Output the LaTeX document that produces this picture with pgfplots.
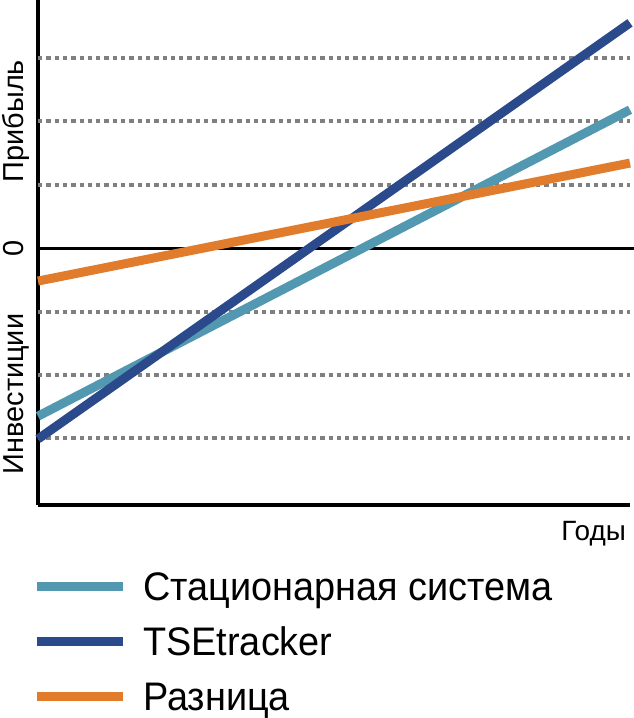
\documentclass[border=0pt]{standalone}
\usepackage{pgfplots}
\pgfplotsset{compat=1.18}
\usepackage{fontspec}
\setmainfont{Liberation Sans}
\newfontfamily\legfont[FakeStretch=0.95]{Liberation Sans}
\definecolor{cstat}{HTML}{5198B0}
\definecolor{ctse}{HTML}{2B4A8C}
\definecolor{cdiff}{HTML}{E07C2C}
\definecolor{cgrid}{HTML}{808080}
\begin{document}
\begin{tikzpicture}
\useasboundingbox (0,0) rectangle (634bp,-718bp);
\begin{axis}[
  at={(38bp,-505bp)}, anchor=south west,
  scale only axis, width=592bp, height=505bp,
  xmin=0, xmax=1, ymin=-4.05, ymax=3.91,
  axis x line=bottom, axis y line=left,
  axis line style={-, line width=4bp, black},
  xtick=\empty, ytick=\empty,
  clip=false,
  legend style={at={(rel axis cs:0,0)}, anchor=north west, xshift=-6bp, yshift=-67bp,
    draw=none, fill=none, inner sep=0pt, row sep=27bp,
    font=\legfont\fontsize{40}{44}\selectfont,
    nodes={inner sep=0pt, text depth=0pt}},
  legend cell align=left,
  legend image code/.code={\draw[#1] (0bp,0bp) -- (86bp,0bp);},
  legend style={/tikz/every odd column/.append style={column sep=16bp}},
]
% grid
\foreach \g in {-3,-2,-1,1,2,3}{
  \edef\tmp{\noexpand\draw[cgrid, line width=4bp, dash pattern=on 4.3bp off 4bp] (axis cs:0,\g) -- (axis cs:1,\g);}
  \tmp
}
\draw[black, line width=3bp] (axis cs:0,0) -- (axis cs:1.01,0);
\addplot[cstat, line width=9bp] coordinates {(0,-2.65) (1,2.18)};
\addlegendentry{Стационарная система}
\addplot[ctse, line width=9bp] coordinates {(0,-3.01) (1,3.55)};
\addlegendentry{TSEtracker}
\addplot[cdiff, line width=9bp] coordinates {(0,-0.52) (1,1.34)};
\addlegendentry{Разница}
\node[rotate=90, anchor=base, font=\fontsize{29}{32}\selectfont] at ([xshift=-15bp]axis cs:0,2.0) {Прибыль};
\node[rotate=90, anchor=base, font=\fontsize{29}{32}\selectfont] at ([xshift=-15bp]axis cs:0,0) {0};
\node[rotate=90, anchor=base, font=\fontsize{29}{32}\selectfont] at ([xshift=-15bp]axis cs:0,-2.3) {Инвестиции};
\node[anchor=base east, font=\fontsize{28}{32}\selectfont, inner sep=0pt] at ([xshift=-4bp, yshift=-35bp]rel axis cs:1,0) {Годы};
\end{axis}
\end{tikzpicture}
\end{document}
